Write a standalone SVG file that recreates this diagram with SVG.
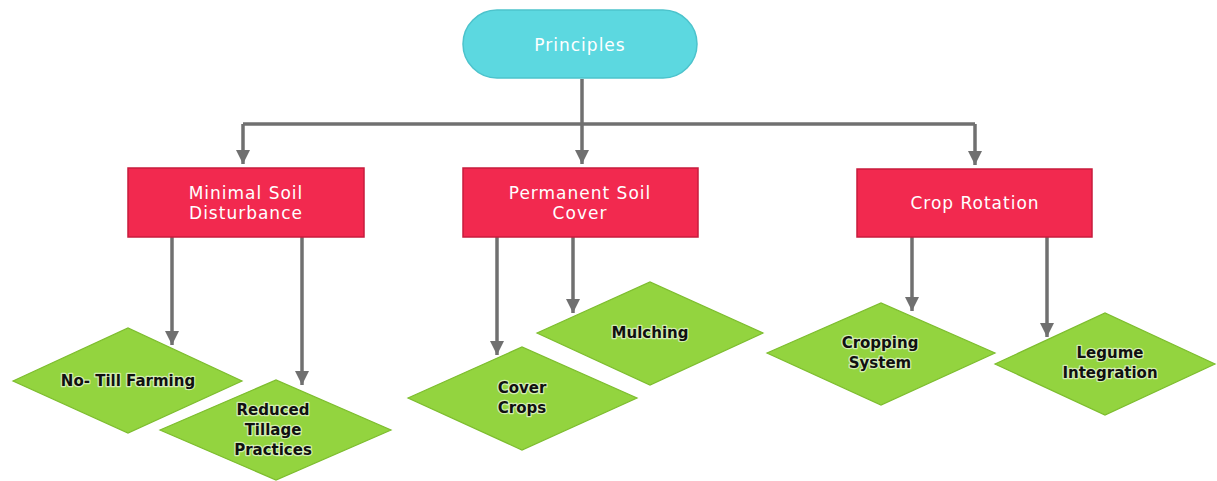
<svg xmlns="http://www.w3.org/2000/svg" width="1217" height="481" viewBox="0 0 1217 481">
<style>
.conn{fill:none;stroke:#707070;stroke-width:3.5}
.root{fill:#5cd8e0;stroke:#4cc3cc;stroke-width:1.5}
.box{fill:#f2294f;stroke:#c81b3c;stroke-width:1.5}
.dia{fill:#93d43f;stroke:#7dbd2e;stroke-width:1.2}
.wt{font-family:"DejaVu Sans",sans-serif;font-size:17px;letter-spacing:1px;fill:#ffffff;text-anchor:middle}
.bt{font-family:"DejaVu Sans",sans-serif;font-weight:bold;font-size:15px;fill:#111111;text-anchor:middle;stroke:#ffffff;stroke-width:2.5;stroke-opacity:0.6;paint-order:stroke;stroke-linejoin:round}
</style>
<defs>
<marker id="ah" viewBox="0 0 10 10" refX="10" refY="5" markerWidth="4" markerHeight="4" markerUnits="strokeWidth" orient="auto">
<path d="M0,0 L10,5 L0,10 z" fill="#707070"/>
</marker>
</defs>
<rect width="1217" height="481" fill="#ffffff"/>
<g id="connectors">
<path class="conn" d="M582,79 V164" marker-end="url(#ah)"/>
<path class="conn" d="M243,124 H975"/>
<path class="conn" d="M243,124 V164" marker-end="url(#ah)"/>
<path class="conn" d="M975,124 V165" marker-end="url(#ah)"/>
<path class="conn" d="M172,237 V345" marker-end="url(#ah)"/>
<path class="conn" d="M302,237 V385" marker-end="url(#ah)"/>
<path class="conn" d="M497,237 V355" marker-end="url(#ah)"/>
<path class="conn" d="M573,237 V313" marker-end="url(#ah)"/>
<path class="conn" d="M912,237 V311" marker-end="url(#ah)"/>
<path class="conn" d="M1047,237 V337" marker-end="url(#ah)"/>
</g>
<g id="principles">
<rect class="root" x="463" y="10" width="234" height="68" rx="34"/>
<text class="wt" x="580" y="51">Principles</text>
</g>
<g id="minimal-soil-disturbance">
<rect class="box" x="128" y="168" width="236" height="69"/>
<text class="wt" x="246" y="199">Minimal Soil</text>
<text class="wt" x="246" y="219">Disturbance</text>
</g>
<g id="permanent-soil-cover">
<rect class="box" x="463" y="168" width="235" height="69"/>
<text class="wt" x="580" y="199">Permanent Soil</text>
<text class="wt" x="580" y="219">Cover</text>
</g>
<g id="crop-rotation">
<rect class="box" x="857" y="169" width="235" height="68"/>
<text class="wt" x="975" y="209">Crop Rotation</text>
</g>
<g id="no-till-farming">
<polygon class="dia" points="13,381 128,328 242,381 128,433"/>
<text class="bt" x="128" y="386">No- Till Farming</text>
</g>
<g id="reduced-tillage">
<polygon class="dia" points="160,430 276,380 391,430 276,480"/>
<text class="bt" x="273" y="415">Reduced</text>
<text class="bt" x="273" y="435">Tillage</text>
<text class="bt" x="273" y="455">Practices</text>
</g>
<g id="cover-crops">
<polygon class="dia" points="408,398 522,347 637,398 522,450"/>
<text class="bt" x="522" y="393">Cover</text>
<text class="bt" x="522" y="413">Crops</text>
</g>
<g id="mulching">
<polygon class="dia" points="537,333 650,282 763,333 650,385"/>
<text class="bt" x="650" y="338">Mulching</text>
</g>
<g id="cropping-system">
<polygon class="dia" points="767,353 881,303 995,353 881,405"/>
<text class="bt" x="880" y="348">Cropping</text>
<text class="bt" x="880" y="368">System</text>
</g>
<g id="legume-integration">
<polygon class="dia" points="995,364 1105,313 1215,364 1105,415"/>
<text class="bt" x="1110" y="358">Legume</text>
<text class="bt" x="1110" y="378">Integration</text>
</g>
</svg>
